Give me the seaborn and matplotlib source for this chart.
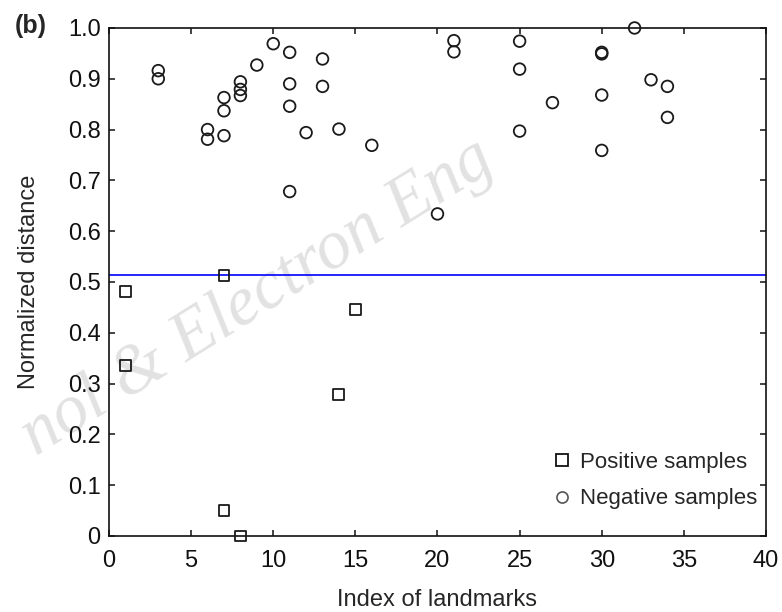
import matplotlib
matplotlib.use("Agg")
import matplotlib.pyplot as plt
import pandas as pd
import seaborn as sns
from matplotlib.lines import Line2D
from matplotlib.ticker import FuncFormatter

# positive samples (squares)
pos_x = [1, 1, 7, 7, 8, 14, 15]
pos_y = [0.482, 0.335, 0.513, 0.051, 0.0, 0.279, 0.445]

# negative samples (circles)
neg_x = [3, 3, 6, 6, 7, 7, 7, 8, 8, 8, 9, 10, 11, 11, 11, 11, 12, 13, 13, 14, 16,
         20, 21, 21, 25, 25, 25, 27, 30, 30, 30, 30, 32, 33, 34, 34]
neg_y = [0.916, 0.900, 0.800, 0.781, 0.863, 0.837, 0.788, 0.894, 0.879, 0.867,
         0.927, 0.969, 0.952, 0.890, 0.846, 0.678, 0.794, 0.939, 0.885, 0.801,
         0.769, 0.634, 0.975, 0.953, 0.974, 0.919, 0.797, 0.853, 0.952, 0.949,
         0.868, 0.759, 1.0, 0.898, 0.885, 0.824]

threshold = 0.513
legend_labels = ["Positive samples", "Negative samples"]

pos_df = pd.DataFrame({"index": pos_x, "dist": pos_y})
neg_df = pd.DataFrame({"index": neg_x, "dist": neg_y})

sns.set_style("ticks")
plt.rcParams["font.family"] = ["Liberation Sans", "DejaVu Sans"]

fig = plt.figure(figsize=(7.82, 6.12), dpi=100)
ax = fig.add_axes([0.1394, 0.1242, 0.8401, 0.8301])
ax.set_zorder(1)
ax.set_facecolor("none")

# journal watermark (visible part only), behind everything
fig.text(0.046, 0.255, "nol & Electron Eng", family="Liberation Serif",
         style="italic", fontsize=50, color="#e2e2e2", rotation=32,
         rotation_mode="anchor", ha="left", va="baseline", zorder=-1)

ax.axhline(threshold, color="#0000ff", lw=1.2, zorder=1)

sns.scatterplot(data=neg_df, x="index", y="dist", marker="o", s=70,
                ax=ax, zorder=3)
sns.scatterplot(data=pos_df, x="index", y="dist", marker="s", s=62,
                ax=ax, zorder=3)
for coll in ax.collections:
    coll.set_facecolor("none")
    coll.set_edgecolor("#1a1a1a")
    coll.set_linewidth(1.3)
    coll.set_clip_on(False)

ax.set_xlim(0, 40)
ax.set_ylim(0, 1.0)
ax.set_xticks(range(0, 41, 5))
ax.set_yticks([i / 10 for i in range(11)])
ax.yaxis.set_major_formatter(FuncFormatter(lambda v, p: "0" if v == 0 else f"{v:.1f}"))

for side in ["top", "right", "left", "bottom"]:
    ax.spines[side].set_visible(True)
    ax.spines[side].set_color("#111111")
    ax.spines[side].set_linewidth(1.2)

ax.tick_params(direction="in", length=4, width=1.1, top=True, right=True,
               labelsize=17, colors="#111111")
ax.tick_params(axis="x", pad=10)
ax.tick_params(axis="y", pad=6)

ax.set_xlabel("Index of landmarks", fontsize=17, labelpad=12)
ax.set_ylabel("Normalized distance", fontsize=17, labelpad=20)

fig.text(0.019, 0.958, "(b)", fontsize=18, fontweight="bold",
         va="center", ha="left")

handles = [
    Line2D([], [], marker="s", ls="none", mfc="none", mec="#111111",
           ms=9, mew=1.3),
    Line2D([], [], marker="o", ls="none", mfc="none", mec="#555555",
           ms=8, mew=1.2),
]
ax.legend(handles, legend_labels, loc="lower right", frameon=False,
          fontsize=16, handletextpad=0.3, handlelength=1.0,
          bbox_to_anchor=(1.0, 0.035), borderaxespad=0.0, labelspacing=0.7)

fig.savefig("out.png", dpi=100)
